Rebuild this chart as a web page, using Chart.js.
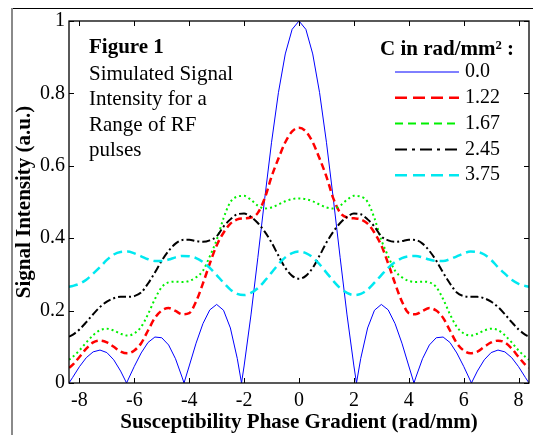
<!DOCTYPE html>
<html lang="en">
<head>
<meta charset="UTF-8">
<title>Simulated Signal Intensity</title>
<script src="https://cdn.jsdelivr.net/npm/chart.js@4.4.1/dist/chart.umd.min.js"></script>
<style>
  html, body { margin: 0; padding: 0; background: #fff; }
  #wrap { width: 533px; height: 435px; }
</style>
</head>
<body>
<div id="wrap"><canvas id="chart" width="533" height="435"></canvas></div>
<script>
// x positions shared by the four smooth curves (rad/mm)
const xGrid = [-8.38, -8.25, -8, -7.75, -7.5, -7.25, -7, -6.75, -6.5, -6.25, -6, -5.75, -5.5, -5.25, -5, -4.75, -4.5, -4.25,
  -4, -3.75, -3.5, -3.25, -3, -2.75, -2.5, -2.25, -2, -1.75, -1.5, -1.25, -1, -0.75, -0.5, -0.25,
  0, 0.25, 0.5, 0.75, 1, 1.25, 1.5, 1.75, 2, 2.25, 2.5, 2.75, 3, 3.25, 3.5, 3.75,
  4, 4.25, 4.5, 4.75, 5, 5.25, 5.5, 5.75, 6, 6.25, 6.5, 6.75, 7, 7.25, 7.5, 7.75, 8, 8.25, 8.38];

// C = 0.0 has sharp zeros, so it gets its own x positions
const xBlue = [-8.38, -8.25, -8, -7.75, -7.5, -7.25, -7, -6.75, -6.5, -6.283, -6, -5.75, -5.5, -5.25, -5, -4.75, -4.5, -4.25, -4.189,
  -4, -3.75, -3.5, -3.25, -3, -2.75, -2.5, -2.25, -2.094, -2, -1.75, -1.5, -1.25, -1, -0.75, -0.5, -0.25,
  0, 0.25, 0.5, 0.75, 1, 1.25, 1.5, 1.75, 2, 2.094, 2.25, 2.5, 2.75, 3, 3.25, 3.5, 3.75, 4,
  4.189, 4.25, 4.5, 4.75, 5, 5.25, 5.5, 5.75, 6, 6.283, 6.5, 6.75, 7, 7.25, 7.5, 7.75, 8, 8.25, 8.38];
const yBlue = [0, 0.015, 0.045, 0.07, 0.086, 0.091, 0.084, 0.064, 0.033, 0, 0.046, 0.083, 0.112, 0.127, 0.125, 0.105, 0.067, 0.014, 0,
  0.047, 0.11, 0.164, 0.202, 0.217, 0.201, 0.152, 0.068, 0, 0.047, 0.188, 0.346, 0.509, 0.665, 0.802, 0.909, 0.977,
  1, 0.977, 0.909, 0.802, 0.665, 0.509, 0.346, 0.188, 0.047, 0, 0.068, 0.152, 0.201, 0.217, 0.202, 0.164, 0.11, 0.047,
  0, 0.014, 0.067, 0.105, 0.125, 0.127, 0.112, 0.083, 0.046, 0, 0.033, 0.064, 0.084, 0.091, 0.086, 0.07, 0.045, 0.015, 0];

const yRed = [0.042, 0.05, 0.072, 0.095, 0.112, 0.117, 0.112, 0.1, 0.087, 0.082, 0.09, 0.11, 0.145, 0.18, 0.2, 0.207, 0.199, 0.19,
  0.193, 0.225, 0.275, 0.33, 0.38, 0.415, 0.44, 0.452, 0.455, 0.457, 0.47, 0.51, 0.57, 0.62, 0.665, 0.695,
  0.705, 0.695, 0.665, 0.62, 0.57, 0.51, 0.47, 0.457, 0.455, 0.452, 0.44, 0.415, 0.38, 0.33, 0.275, 0.225,
  0.193, 0.19, 0.199, 0.207, 0.2, 0.18, 0.145, 0.11, 0.09, 0.082, 0.087, 0.1, 0.112, 0.117, 0.112, 0.095, 0.072, 0.05, 0.042];

const yGreen = [0.064, 0.072, 0.09, 0.112, 0.132, 0.146, 0.15, 0.145, 0.136, 0.131, 0.137, 0.155, 0.19, 0.232, 0.265, 0.278, 0.28, 0.279,
  0.282, 0.292, 0.31, 0.35, 0.395, 0.455, 0.5, 0.515, 0.517, 0.506, 0.49, 0.482, 0.485, 0.493, 0.502, 0.508,
  0.51, 0.508, 0.502, 0.493, 0.485, 0.482, 0.49, 0.506, 0.517, 0.515, 0.5, 0.455, 0.395, 0.35, 0.31, 0.292,
  0.282, 0.279, 0.28, 0.278, 0.265, 0.232, 0.19, 0.155, 0.137, 0.131, 0.136, 0.145, 0.15, 0.146, 0.132, 0.112, 0.09, 0.072, 0.064];

const yBlack = [0.128, 0.133, 0.148, 0.168, 0.19, 0.21, 0.225, 0.234, 0.238, 0.238, 0.24, 0.25, 0.275, 0.305, 0.338, 0.365, 0.385, 0.395,
  0.396, 0.392, 0.39, 0.394, 0.405, 0.432, 0.452, 0.466, 0.468, 0.459, 0.442, 0.418, 0.388, 0.352, 0.318, 0.296,
  0.288, 0.296, 0.318, 0.352, 0.388, 0.418, 0.442, 0.459, 0.468, 0.466, 0.452, 0.432, 0.405, 0.394, 0.39, 0.392,
  0.396, 0.395, 0.385, 0.365, 0.338, 0.305, 0.275, 0.25, 0.24, 0.238, 0.238, 0.234, 0.225, 0.21, 0.19, 0.168, 0.148, 0.133, 0.128];

const yCyan = [0.266, 0.268, 0.274, 0.285, 0.302, 0.32, 0.34, 0.355, 0.362, 0.363, 0.358, 0.35, 0.342, 0.337, 0.337, 0.341, 0.347, 0.351,
  0.35, 0.345, 0.334, 0.318, 0.298, 0.277, 0.258, 0.246, 0.243, 0.249, 0.262, 0.282, 0.305, 0.328, 0.347, 0.359,
  0.363, 0.359, 0.347, 0.328, 0.305, 0.282, 0.262, 0.249, 0.243, 0.246, 0.258, 0.277, 0.298, 0.318, 0.334, 0.345,
  0.35, 0.351, 0.347, 0.341, 0.337, 0.337, 0.342, 0.35, 0.358, 0.363, 0.362, 0.355, 0.34, 0.32, 0.302, 0.285, 0.274, 0.268, 0.266];

const seriesLabels = ['0.0', '1.22', '1.67', '2.45', '3.75'];
const xTicks = [-8, -6, -4, -2, 0, 2, 4, 6, 8];
const yTicks = [0, 0.2, 0.4, 0.6, 0.8, 1];
const noteTitle = 'Figure 1';
const noteLines = ['Simulated Signal', 'Intensity for a', 'Range of RF', 'pulses'];
const legendTitle = 'C in rad/mm\u00b2 :';

const serif = "'Liberation Serif', 'Times New Roman', serif";

// line styles: curve dash and the dash shown in the legend
const styles = [
  { color: '#0000ff', width: 1, dash: [], legendDash: [] },
  { color: '#ff0000', width: 2.5, dash: [7, 4], legendDash: [12, 6] },
  { color: '#00f000', width: 2, dash: [2, 3], legendDash: [8, 5] },
  { color: '#000000', width: 2, dash: [8, 3, 2, 3], legendDash: [12, 5, 3, 5] },
  { color: '#00e8f0', width: 2.5, dash: [9, 5], legendDash: [12, 6] }
];

function pts(xs, ys) {
  return xs.map((x, i) => ({ x: x, y: ys[i] }));
}

const seriesData = [pts(xBlue, yBlue), pts(xGrid, yRed), pts(xGrid, yGreen), pts(xGrid, yBlack), pts(xGrid, yCyan)];

const datasets = seriesData.map((d, i) => ({
  label: seriesLabels[i],
  data: d,
  borderColor: styles[i].color,
  borderWidth: styles[i].width,
  borderDash: styles[i].dash,
  pointRadius: 0,
  fill: false,
  tension: 0,
  cubicInterpolationMode: i === 0 ? 'default' : 'monotone',
  order: 5 - i
}));

function line(ctx, x1, y1, x2, y2) {
  ctx.beginPath();
  ctx.moveTo(x1, y1);
  ctx.lineTo(x2, y2);
  ctx.stroke();
}

const decorations = {
  id: 'decorations',
  beforeDraw(chart) {
    const ctx = chart.ctx;
    ctx.save();
    // outer figure frame (top and left edges)
    ctx.strokeStyle = '#000';
    ctx.lineWidth = 1;
    line(ctx, 11, 8.5, 533, 8.5);
    ctx.strokeStyle = '#8a8a8a';
    ctx.lineWidth = 2;
    line(ctx, 12, 8, 12, 435);
    ctx.restore();
  },
  afterDraw(chart) {
    const { ctx, chartArea: a, scales } = chart;
    ctx.save();
    ctx.strokeStyle = '#000';
    ctx.lineWidth = 1.3;
    ctx.strokeRect(a.left, a.top, a.width, a.height);

    // inward ticks on all four sides
    ctx.lineWidth = 1;
    xTicks.forEach(v => {
      const px = Math.round(scales.x.getPixelForValue(v)) + 0.5;
      line(ctx, px, a.bottom, px, a.bottom - 5);
      line(ctx, px, a.top, px, a.top + 5);
    });
    yTicks.forEach(v => {
      const py = Math.round(scales.y.getPixelForValue(v)) + 0.5;
      line(ctx, a.left, py, a.left + 5, py);
      line(ctx, a.right, py, a.right - 5, py);
    });

    // note text, upper left
    ctx.fillStyle = '#000';
    ctx.textBaseline = 'middle';
    ctx.textAlign = 'left';
    ctx.font = 'bold 21px ' + serif;
    ctx.fillText(noteTitle, 89, 48);
    ctx.font = '21px ' + serif;
    noteLines.forEach((t, i) => ctx.fillText(t, 89, 74 + i * 25.5));

    // legend, upper right
    ctx.font = 'bold 21px ' + serif;
    ctx.fillText(legendTitle, 380, 50);
    ctx.font = '20px ' + serif;
    seriesLabels.forEach((lab, i) => {
      const yy = 72 + i * 25.8;
      const s = styles[i];
      ctx.strokeStyle = s.color;
      ctx.lineWidth = s.width;
      ctx.setLineDash(s.legendDash);
      line(ctx, 395, yy, 459, yy);
      ctx.setLineDash([]);
      ctx.fillText(lab, 465, yy);
    });
    ctx.restore();
  }
};

Chart.defaults.color = '#000';
Chart.defaults.font.family = serif;

new Chart(document.getElementById('chart'), {
  type: 'line',
  data: { datasets: datasets },
  options: {
    responsive: false,
    animation: false,
    devicePixelRatio: 1,
    layout: { padding: { top: 21, right: 4, left: 0, bottom: 0 } },
    plugins: { legend: { display: false }, tooltip: { enabled: false } },
    scales: {
      x: {
        type: 'linear',
        min: -8.38,
        max: 8.38,
        grid: { display: false, drawTicks: false },
        border: { display: false },
        afterBuildTicks: s => { s.ticks = xTicks.map(v => ({ value: v })); },
        afterFit: s => { s.height = 52; },
        ticks: { font: { size: 20 }, padding: 6, maxRotation: 0, callback: v => String(v) },
        title: {
          display: true,
          text: 'Susceptibility Phase Gradient (rad/mm)',
          font: { size: 21, weight: 'bold' },
          padding: { top: 0, bottom: 0 }
        }
      },
      y: {
        min: 0,
        max: 1,
        grid: { display: false, drawTicks: false },
        border: { display: false },
        afterBuildTicks: s => { s.ticks = yTicks.map(v => ({ value: v })); },
        afterFit: s => { s.width = 69; },
        ticks: { font: { size: 20 }, padding: 4, callback: v => String(v) },
        title: {
          display: true,
          text: 'Signal Intensity (a.u.)',
          font: { size: 21, weight: 'bold' },
          padding: { top: 12, bottom: 0 }
        }
      }
    }
  },
  plugins: [decorations]
});
</script>
</body>
</html>
